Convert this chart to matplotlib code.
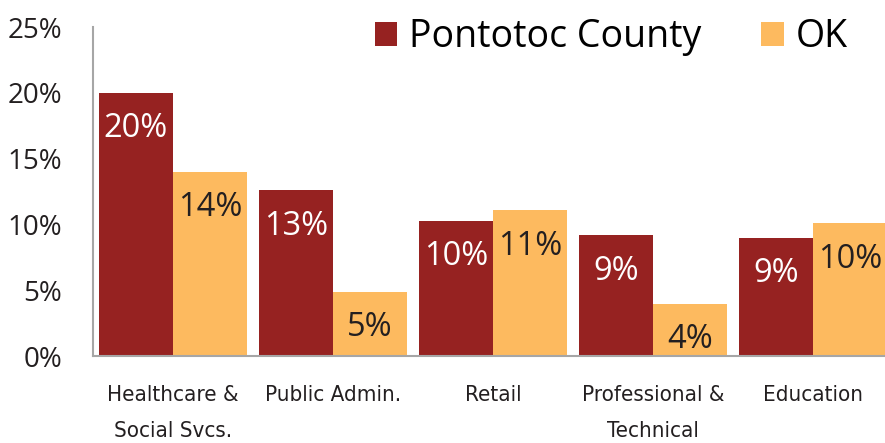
import numpy as np
import matplotlib
matplotlib.use('Agg')
import matplotlib.pyplot as plt
from matplotlib.ticker import FuncFormatter

categories = ['Healthcare &\nSocial Svcs.', 'Public Admin.', 'Retail',
              'Professional &\nTechnical', 'Education']
pontotoc = [0.200, 0.126, 0.103, 0.092, 0.090]
ok_state = [0.140, 0.049, 0.111, 0.040, 0.101]
pontotoc_labels = ['20%', '13%', '10%', '9%', '9%']
ok_labels = ['14%', '5%', '11%', '4%', '10%']
series_names = ['Pontotoc County', 'OK']

red = '#962221'
orange = '#FDBA5F'
grey = '#A6A6A6'
text_col = '#231F20'

plt.rcParams['font.family'] = ['Open Sans', 'DejaVu Sans']

fig = plt.figure(figsize=(8.85, 4.43), dpi=100)
ax = fig.add_axes([0.105, 0.196, 0.895, 0.743])

x = np.arange(len(categories))
w = 0.4625
b1 = ax.bar(x - w / 2, pontotoc, w, color=red, label=series_names[0])
b2 = ax.bar(x + w / 2, ok_state, w, color=orange, label=series_names[1])

for rect, lab in zip(b1, pontotoc_labels):
    ax.annotate(lab, (rect.get_x() + rect.get_width() / 2, rect.get_height()),
                xytext=(0, -26), textcoords='offset points', ha='center',
                va='center', color='white', fontsize=23.5)
for rect, lab in zip(b2, ok_labels):
    ax.annotate(lab, (rect.get_x() + rect.get_width() / 2, rect.get_height()),
                xytext=(0, -26), textcoords='offset points', ha='center',
                va='center', color=text_col, fontsize=23.5)

ax.set_xlim(-0.5, 4.45)
ax.set_ylim(0, 0.25)
ax.set_yticks(np.arange(0, 0.26, 0.05))
ax.yaxis.set_major_formatter(FuncFormatter(lambda v, p: f'{v * 100:.0f}%'))
ax.set_xticks(x)
ax.set_xticklabels(categories, fontsize=16, color=text_col,
                   family='DejaVu Sans', fontstretch='condensed')
for lab in ax.get_xticklabels():
    lab.set_linespacing(2.0)
for lab in ax.get_yticklabels():
    lab.set_fontsize(20)
    lab.set_color(text_col)
ax.tick_params(axis='both', length=0)
ax.tick_params(axis='x', pad=21)
ax.tick_params(axis='y', pad=22)

for s in ['top', 'right']:
    ax.spines[s].set_visible(False)
for s in ['left', 'bottom']:
    ax.spines[s].set_color(grey)
    ax.spines[s].set_linewidth(1.5)

ax.legend(loc='upper right', bbox_to_anchor=(0.996, 1.13), ncol=2, frameon=False,
          prop={'size': 27},
          handlelength=0.6, handleheight=0.6, handletextpad=0.32,
          columnspacing=1.6)

fig.savefig('out.png', dpi=100)
